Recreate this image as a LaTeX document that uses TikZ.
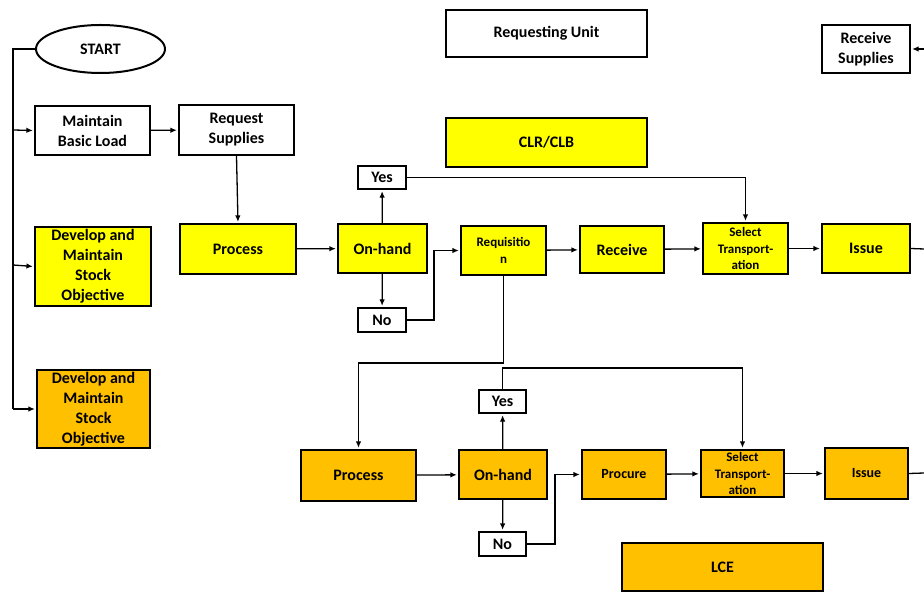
\documentclass[tikz,border=0pt]{standalone}
\usepackage{fontspec}
\setmainfont{Carlito}
\usetikzlibrary{arrows.meta,shapes.geometric}
\definecolor{yel}{HTML}{FFFF00}
\definecolor{org}{HTML}{FFC000}
\tikzset{
  box/.style={draw=black,line width=2.2pt,inner sep=0pt,align=center,font=\bfseries\fontsize{16}{20}\selectfont},
  yb/.style={box,fill=yel},
  ob/.style={box,fill=org},
  wb/.style={box,fill=white},
  sz/.style 2 args={minimum width=#1pt,minimum height=#2pt},
  conn/.style={line width=1.3pt,shorten >=1pt,-{Latex[length=6.5pt,width=5.5pt]}},
  plain/.style={line width=1.3pt},
  small/.style={font=\bfseries\fontsize{13}{16.7}\selectfont},
  mid/.style={font=\bfseries\fontsize{14}{18}\selectfont}
}
\begin{document}
\begin{tikzpicture}[x=1pt,y=-1pt]
\useasboundingbox (0,0) rectangle (924,593);
% top-level nodes
\node[ellipse,draw,line width=2pt,fill=white,minimum width=129pt,minimum height=48pt,inner sep=0pt,font=\bfseries\fontsize{16}{20}\selectfont] (start) at (100.5,49) {START};
\node[wb,sz={115}{49}] (mbl) at (92.5,130.5) {Maintain\\Basic Load};
\node[wb,sz={115}{50}] (rs) at (236.5,130) {Request\\Supplies};
\node[yb,sz={116}{79}] (dev1) at (93,266.5) {Develop and\\Maintain\\Stock\\Objective};
\node[ob,sz={113}{78}] (dev2) at (93.5,409) {Develop and\\Maintain\\Stock\\Objective};
\node[wb,sz={201}{47}] (ru) at (546.5,33.5) {Requesting Unit};
\node[yb,sz={201}{49}] (clr) at (546.5,142.5) {CLR/CLB};
\node[wb,sz={88}{48}] (recs) at (866,49) {Receive\\Supplies};
% upper row
\node[wb,sz={48}{23}] (yes1) at (382,177.5) {Yes};
\node[yb,sz={116}{50}] (proc1) at (238,249) {Process};
\node[yb,sz={89}{49}] (onh1) at (382.5,248.5) {On-hand};
\node[wb,sz={48}{24}] (no1) at (382,320) {No};
\node[yb,sz={85}{49},small] (req) at (503.5,250.5) {Requisitio\\n};
\node[yb,sz={84}{47}] (rec) at (622,249.5) {Receive};
\node[yb,sz={85}{51},small] (sel1) at (745.5,248.5) {Select\\Transport-\\ation};
\node[yb,sz={88}{49}] (iss1) at (866,248.5) {Issue};
% lower row
\node[ob,sz={115}{51}] (proc2) at (358.5,475.5) {Process};
\node[ob,sz={88}{49}] (onh2) at (503,474.5) {On-hand};
\node[wb,sz={47}{23}] (yes2) at (502.5,401.5) {Yes};
\node[wb,sz={47}{24}] (no2) at (502.5,544) {No};
\node[ob,sz={84}{49},mid] (procu) at (624,474.5) {Procure};
\node[ob,sz={83}{47},small] (sel2) at (742.5,473.5) {Select\\Transport-\\ation};
\node[ob,sz={83}{51},mid] (iss2) at (866.5,473.5) {Issue};
\node[ob,sz={201}{48}] (lce) at (722.5,567) {LCE};
% free ends
\coordinate (sp1) at (13,130);
\coordinate (sp2) at (13,265);
\coordinate (sp3) at (13,409);
\coordinate (e1) at (924,49);
\coordinate (e2) at (924,249);
\coordinate (e3) at (924,473);
% left spine
\draw[plain] (start.west) -| (sp3);
\draw[conn] (sp1) -- (mbl.west);
\draw[conn] (sp2) -- (dev1.west);
\draw[conn] (sp3) -- (dev2.west);
\draw[conn] (mbl) -- (rs);
\draw[conn] (rs.south) -- (proc1.north);
\draw[conn] (e1) -- (recs.east);
% upper flow
\draw[conn] (proc1) -- (onh1);
\draw[conn] (onh1) -- (yes1);
\draw[conn] (onh1) -- (no1);
\draw[conn] (yes1.east) -| (sel1.north);
\draw[conn] (no1.east) -- ++(27,0) |- (req.west);
\draw[conn] (req) -- (rec);
\draw[conn] (rec) -- (sel1);
\draw[conn] (sel1) -- (iss1);
\draw[plain] (iss1.east) -- (e2);
\draw[conn] (req.south) -- ++(0,87) -| (proc2.north);
% lower flow
\draw[conn] (proc2) -- (onh2);
\draw[conn] (onh2) -- (yes2);
\draw[conn] (onh2) -- (no2);
\draw[conn] (yes2.north) -- ++(0,-21) -| (sel2.north);
\draw[conn] (no2.east) -- ++(28,0) |- (procu.west);
\draw[conn] (procu) -- (sel2);
\draw[conn] (sel2) -- (iss2);
\draw[plain] (iss2.east) -- (e3);
\end{tikzpicture}
\end{document}
